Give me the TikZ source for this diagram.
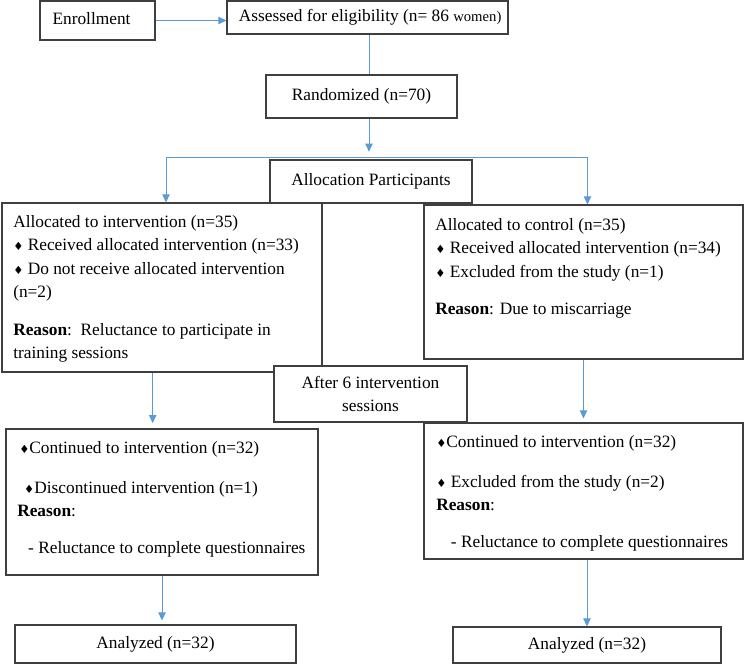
\documentclass[tikz,border=0pt]{standalone}
\usepackage{fontspec}
\setmainfont{Liberation Serif}
\newfontfamily\simbol{DejaVu Sans}
\usetikzlibrary{positioning,arrows.meta,fit,calc}
\definecolor{albastru}{HTML}{5B9BD5}
\definecolor{contur}{HTML}{3F3F3F}
\newcommand{\corp}{\fontsize{13}{17.6}\selectfont}
\newcommand{\romb}{{\simbol\fontsize{8.5}{8.5}\selectfont ♦}}
\tikzset{
  bloc/.style     = {draw=contur, line width=0.8pt, fill=white, inner sep=0pt},
  titlu/.style    = {align=center, inner sep=0pt, font=\corp, text depth=0.25em},
  eticheta/.style = {anchor=north west, align=left, inner sep=0pt, font=\corp},
  linie/.style    = {draw=albastru, line width=0.75pt},
  sageata/.style  = {linie, -{Triangle[length=6pt, width=5.5pt]}}
}

\begin{document}
\begin{tikzpicture}[x=0.75pt, y=-0.75pt]
        \useasboundingbox (0,0) rectangle (744,664);

        \node[bloc, fit={(40,1) (155,40)}] (inscriere) {};
        \node[titlu, xshift=-4.5pt] (inscriereT) at (inscriere.center) {Enrollment};
        \node[bloc, fit={(227,1) (508,34)}] (evaluare) {};
        \node[titlu, xshift=2pt] (evaluareT) at (evaluare.center)
            {Assessed for eligibility (n= 86 {\fontsize{11}{13}\selectfont women)}};
        \node[bloc, fit={(266,75) (457,118)}] (random) {};
        \node[titlu] (randomT) at (random.center) {Randomized (n=70)};
        \node[bloc, fit={(270,160) (472,203)}] (alocare) {};
        \node[titlu] (alocareT) at (alocare.center) {Allocation Participants};

        % cele doua grupuri dupa alocare
        \node[bloc, fit={(2,203) (322,372)}] (grupI) {};
        \node[eticheta] (textI) at (13,215) {Allocated to intervention (n=35)\\
            \romb\ Received allocated intervention (n=33)\\
            \romb\ Do not receive allocated intervention\\
            (n=2)\\[10.5pt]
            \textbf{Reason}:\ \ Reluctance to participate in\\
            training sessions};
        \node[bloc, fit={(424,205) (743,359)}] (grupC) {};
        \node[eticheta] (textC) at (435,218) {Allocated to control (n=35)\\
            \romb\ Received allocated intervention (n=34)\\
            \romb\ Excluded from the study (n=1)\\[10.5pt]
            \textbf{Reason}: Due to miscarriage};

        \node[bloc, fit={(274,366) (467,422)}] (sesiuni) {};
        \node[align=center, inner sep=0pt, font=\corp] (sesiuniT) at (sesiuni.center)
            {After 6 intervention\\ sessions};

        % continuarea interventiei
        \node[bloc, fit={(6,429) (318,575)}] (contI) {};
        \node[eticheta] (textCI) at (17,441) {\hspace*{1.5pt}\romb Continued to intervention (n=32)\\[12.4pt]
            \hspace*{5.2pt}\romb Discontinued intervention (n=1)\\
            \textbf{Reason}:\\[10pt]
            \hspace*{8.2pt}- Reluctance to complete questionnaires};
        \node[bloc, fit={(424,423) (743,559)}] (contC) {};
        \node[eticheta] (textCC) at (436,435) {\romb Continued to intervention (n=32)\\[12.4pt]
            \romb\ Excluded from the study (n=2)\\
            \textbf{Reason}:\\[10pt]
            \hspace*{11pt}- Reluctance to complete questionnaires};

        \node[bloc, fit={(15,625) (296,663)}] (analizaI) {};
        \node[titlu] (analizaIT) at (analizaI.center) {Analyzed (n=32)};
        \node[bloc, fit={(453,627) (721,663)}] (analizaC) {};
        \node[titlu] (analizaCT) at (analizaC.center) {Analyzed (n=32)};

        \coordinate (ramificare) at (369,157);

        \draw[sageata] (inscriere.east) -- (inscriere.east -| evaluare.west);
        \draw[linie] (ramificare |- evaluare.south) -- (ramificare |- random.north);
        \draw[sageata, shorten >=4pt] (ramificare |- random.south) -- (ramificare);
        \draw[sageata] (ramificare) -| ([xshift=3pt]grupI.north);
        \draw[sageata] (ramificare) -| ([xshift=3pt]grupC.north);
        \draw[sageata, shorten >=4pt] ([xshift=-7pt]grupI.south) -- ([xshift=-7pt]grupI.south |- contI.north);
        \draw[sageata, shorten >=3pt] (grupC.south) -- (grupC.south |- contC.north);
        \draw[sageata, shorten >=3pt] (contI.south) -- (contI.south |- analizaI.north);
        \draw[sageata] (analizaC.north |- contC.south) -- (analizaC.north);
    \end{tikzpicture}
\end{document}
